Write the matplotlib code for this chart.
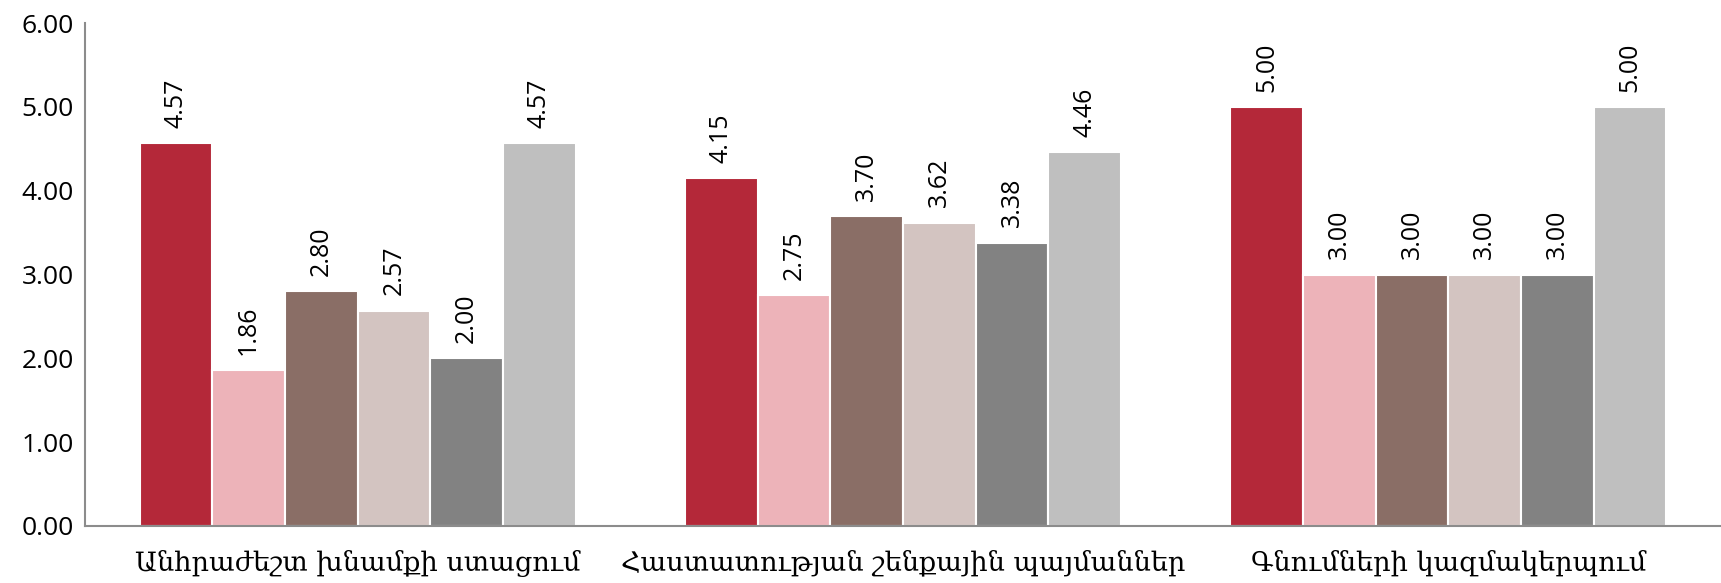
import numpy as np
import matplotlib.pyplot as plt

categories = ['Անհրաժեշտ խնամքի ստացում',
              'Հաստատության շենքային պայմաններ',
              'Գնումների կազմակերպում']
series = [
    [4.57, 4.15, 5.00],
    [1.86, 2.75, 3.00],
    [2.80, 3.70, 3.00],
    [2.57, 3.62, 3.00],
    [2.00, 3.38, 3.00],
    [4.57, 4.46, 5.00],
]
colors = ['#B42839', '#EDB3B9', '#8A6E66', '#D3C4C1', '#828282', '#BFBFBF']

fig = plt.figure(figsize=(17.21, 5.83), dpi=100)
ax = fig.add_axes([0.0494, 0.0978, 0.9506, 0.8627])

x = np.arange(len(categories))
w = 0.8 / len(series)
for i, vals in enumerate(series):
    pos = x - 0.4 + w * (i + 0.5)
    ax.bar(pos, vals, width=w, color=colors[i], edgecolor='white', linewidth=1.5, zorder=2)
    for px, v in zip(pos, vals):
        ax.annotate(f'{v:.2f}', (px, v), xytext=(0, 11), textcoords='offset points',
                    rotation=90, ha='center', va='bottom', fontsize=18,
                    family='Open Sans')

ax.set_xlim(-0.5, 2.5)
ax.set_ylim(0, 6)
ax.set_yticks(np.arange(0, 7, 1))
ax.set_yticklabels([f'{t:.2f}' for t in range(7)], fontsize=19, family='Open Sans')
ax.set_xticks(x)
ax.set_xticklabels(categories, fontsize=19.5, family='DejaVu Serif')
ax.tick_params(length=0)
ax.tick_params(axis='x', pad=17)
ax.tick_params(axis='y', pad=8)
for s in ['top', 'right']:
    ax.spines[s].set_visible(False)
for s in ['left', 'bottom']:
    ax.spines[s].set_color('#8C8C8C')
    ax.spines[s].set_linewidth(1.5)

fig.savefig('out.png', dpi=100)
